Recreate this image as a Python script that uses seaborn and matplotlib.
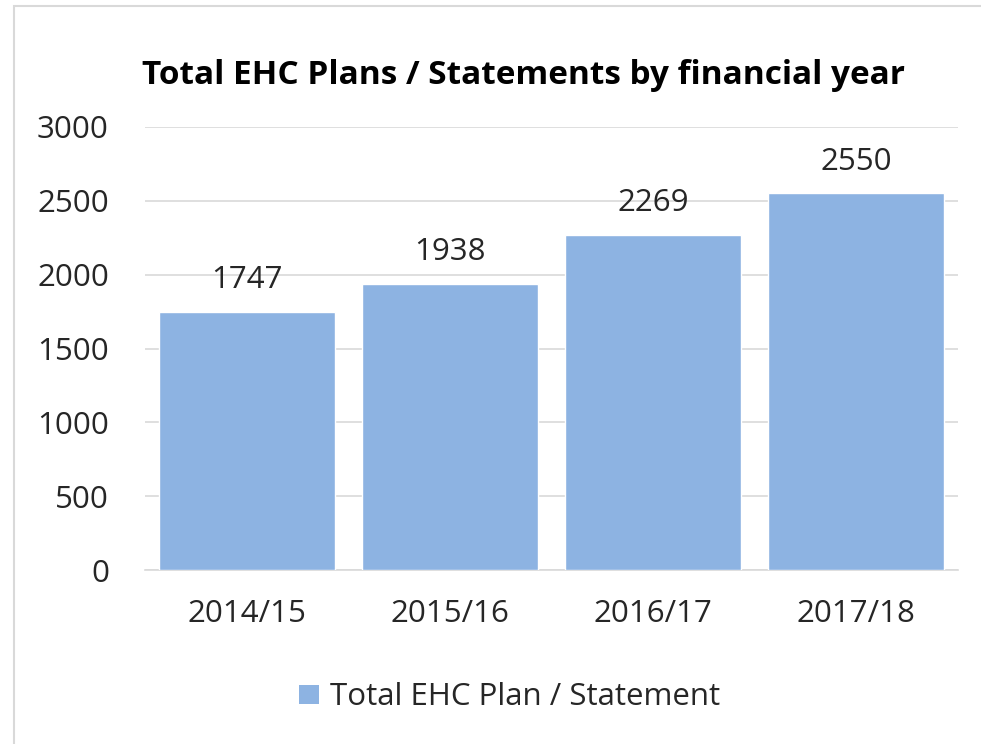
import matplotlib
matplotlib.use("Agg")
import matplotlib.pyplot as plt
import pandas as pd
import seaborn as sns
from matplotlib.patches import Rectangle

years = ["2014/15", "2015/16", "2016/17", "2017/18"]
totals = [1747, 1938, 2269, 2550]
series_name = "Total EHC Plan / Statement"
title = "Total EHC Plans / Statements by financial year"
y_ticks = [0, 500, 1000, 1500, 2000, 2500, 3000]

BAR = "#8DB3E2"
TEXT = "#262626"

sns.set_theme(style="white")
plt.rcParams["font.family"] = ["Open Sans", "DejaVu Sans"]

df = pd.DataFrame({"year": years, "total": totals, "series": series_name})

fig = plt.figure(figsize=(9.81, 7.44), dpi=100)
# outer chart-area border (top and left edges only visible in the crop)
fig.patches.append(Rectangle((14 / 981, -0.05), 1.2, 1 - 6 / 744 + 0.05, transform=fig.transFigure,
                             fill=False, edgecolor="#D9D9D9", linewidth=1.5))
ax = fig.add_axes([145 / 981, 1 - 570 / 744, 813 / 981, (570 - 127) / 744])

sns.barplot(data=df, x="year", y="total", hue="series", palette=[BAR], width=0.865,
            ax=ax, legend=False, saturation=1, zorder=3)

ax.set_ylim(0, 3000)
ax.set_xlim(-0.5, 3.5)
ax.set_yticks(y_ticks)
ax.yaxis.grid(True, color="#D9D9D9", linewidth=1.2, zorder=0)
ax.set_axisbelow(True)
for side in ["top", "right", "left"]:
    ax.spines[side].set_visible(False)
ax.spines["bottom"].set_color("#D9D9D9")
ax.spines["bottom"].set_linewidth(1.2)
ax.tick_params(axis="both", length=0, labelsize=22.5, labelcolor=TEXT)
ax.tick_params(axis="y", pad=26)
ax.tick_params(axis="x", pad=21)
ax.set_xlabel("")
ax.set_ylabel("")

for container in ax.containers:
    ax.bar_label(container, labels=[str(v) for v in totals], padding=12, fontsize=22.5, color=TEXT)

fig.text(524 / 981, 1 - 76 / 744, title, ha="center", va="center", fontsize=24,
         fontweight="bold", color="black")

fig.patches.append(Rectangle((299 / 981, 1 - 704 / 744), 20 / 981, 19 / 744,
                             transform=fig.transFigure, facecolor=BAR, edgecolor="none"))
fig.text(330 / 981, 1 - 697 / 744, series_name, ha="left", va="center", fontsize=22.5, color=TEXT)

fig.savefig("out.png", dpi=100, facecolor="white")
